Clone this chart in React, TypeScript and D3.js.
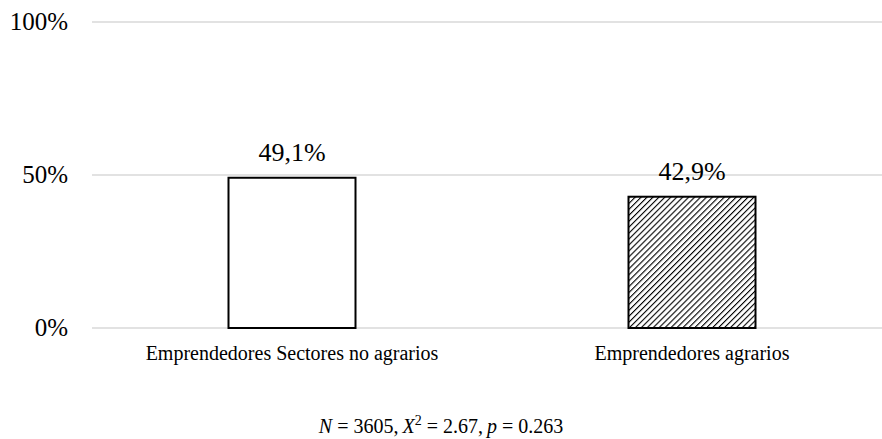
import React from 'react';
import * as d3 from 'd3';

const categories = ['Emprendedores Sectores no agrarios', 'Emprendedores agrarios'];
const values = [49.1, 42.9];
const valueLabels = ['49,1%', '42,9%'];
const yTicks = [0, 50, 100];
const fills = ['white', 'url(#hatch)'];

const W = 882;
const H = 439;
const margin = { top: 22, right: -10, bottom: 111, left: 92 };

export default function App() {
  const x = d3
    .scaleBand<string>()
    .domain(categories)
    .range([margin.left, W - margin.right]);
  const y = d3
    .scaleLinear()
    .domain([0, 100])
    .range([H - margin.bottom, margin.top]);

  const barW = x.bandwidth() * 0.3175;
  const font = '"Liberation Serif", "Times New Roman", serif';

  return (
    <svg
      width={W}
      height={H}
      style={{ position: 'absolute', left: 0, top: 0, background: 'white' }}
      fontFamily={font}
    >
      <defs>
        <pattern
          id="hatch"
          width={4.2}
          height={4.2}
          patternUnits="userSpaceOnUse"
          patternTransform="rotate(45)"
        >
          <rect width={4.2} height={4.2} fill="white" />
          <line x1={0} y1={0} x2={0} y2={4.2} stroke="black" strokeWidth={2.2} />
        </pattern>
      </defs>

      {yTicks.map((t) => (
        <g key={t}>
          <line
            x1={margin.left}
            x2={W}
            y1={y(t)}
            y2={y(t)}
            stroke="#d9d9d9"
            strokeWidth={1.5}
          />
          <text x={68} y={y(t)} dy="0.33em" textAnchor="end" fontSize={25} fill="black">
            {t}%
          </text>
        </g>
      ))}

      {categories.map((c, i) => {
        const cx = (x(c) as number) + x.bandwidth() / 2;
        return (
          <g key={c}>
            <rect
              x={cx - barW / 2}
              y={y(values[i])}
              width={barW}
              height={y(0) - y(values[i])}
              fill={fills[i]}
              stroke="black"
              strokeWidth={2}
            />
            <text x={cx} y={y(values[i]) - 17} textAnchor="middle" fontSize={26} fill="black">
              {valueLabels[i]}
            </text>
            <text x={cx} y={360} textAnchor="middle" fontSize={20} fill="black">
              {c}
            </text>
          </g>
        );
      })}

      <text x={441} y={433} textAnchor="middle" fontSize={20} fill="black" xmlSpace="preserve">
        <tspan fontStyle="italic">N</tspan>
        <tspan>{' = 3605,\u2009'}</tspan>
        <tspan fontStyle="italic">X</tspan>
        <tspan fontSize={14} dy={-8}>2</tspan>
        <tspan dy={8}>{' = 2.67,\u2009'}</tspan>
        <tspan fontStyle="italic">p</tspan>
        <tspan>{' = 0.263'}</tspan>
      </text>
    </svg>
  );
}
